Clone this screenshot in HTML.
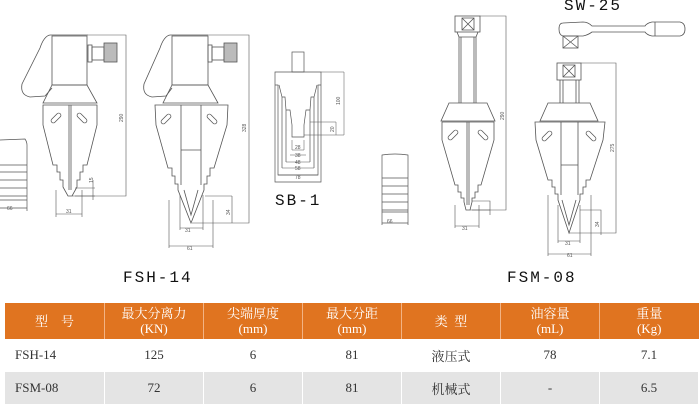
<!DOCTYPE html>
<html><head><meta charset="utf-8"><style>
html,body{margin:0;padding:0;background:#fff;width:700px;height:404px;overflow:hidden}
svg{position:absolute;left:0;top:0}
table{position:absolute;left:5px;top:303px;width:694px;border-collapse:collapse;table-layout:fixed;font-family:"Liberation Serif","Noto Serif CJK SC",serif;font-size:13px;color:#333}
th{background:#e07420;color:#fff;font-weight:normal;height:36px;line-height:15px;border-right:1px solid #f2b384;padding:0}
td{text-align:center;height:32px;padding:0;border-right:1px solid #fff}
tr.g td{background:#e4e4e4;border-top:1px solid #fff}
td:first-child{text-align:left;padding-left:10px}
</style></head><body>
<svg width="700" height="300" viewBox="0 0 700 300" fill="none" stroke="#555" stroke-width="0.8" font-family="Liberation Sans,sans-serif">
<defs>
<g id="slot"><rect x="-6" y="-2.2" width="12" height="4.4" rx="2.2"/></g>
</defs>
<!-- FSH-14 tool 1 -->
<g>
<path d="M52,36 L87,36 L87,85 L52,85 Z"/>
<path d="M50,35 L88,35 M50,35 Q44,36 40,48 L22,84 Q20,95 30,97 L45,96 L52,88"/>
<rect x="88" y="45" width="4" height="17"/><rect x="92" y="47" width="12" height="13"/>
<rect x="104" y="43" width="13" height="19" fill="#bbb"/>
<path d="M52,85 L87,85 L97,103 L43,103 Z"/>
<path d="M43,105 L43,125 L53,165 L57,165 L57,172 L60,172 L60,180 L63,180 L63,187 L68,196 L72,196 L77,187 L77,180 L80,180 L80,172 L83,172 L83,165 L87,165 L97,125 L97,105 Z"/>
<line x1="69" y1="105" x2="69" y2="190"/><line x1="71" y1="105" x2="71" y2="190"/>
<use href="#slot" transform="translate(56,118) rotate(-45)"/><use href="#slot" transform="translate(82,118) rotate(45)"/>
<path d="M88,35 L126,35 L126,196 L72,196" stroke-width="0.6"/>
<path d="M56,190 L56,217 M82,190 L82,217 M56,214 L82,214 M75,188 L95,188 M75,196 L95,196 M93,180 L93,200" stroke-width="0.6"/>
</g>
<!-- left block -->
<path d="M0,140 L25,139 Q27,142 27,145 L27,200 L0,200 M0,165 L27,165 M0,172 L27,172 M0,180 L27,180 M0,188 L27,188 M0,196 L27,196 M27,200 L27,211 M0,208 L27,208" stroke-width="0.7"/>
<!-- FSH-14 tool 2 -->
<g>
<path d="M172,36 L208,36 L208,85 L172,85 Z"/>
<path d="M170,35 L208,35 M170,35 Q164,36 160,48 L144,84 Q142,95 152,97 L166,96 L172,88"/>
<rect x="208" y="45" width="4" height="17"/><rect x="212" y="47" width="12" height="13"/>
<rect x="224" y="43" width="13" height="19" fill="#bbb"/>
<path d="M172,85 L208,85 L218,103 L163,103 Z"/>
<path d="M155,105 L156,125 L168,168 L172,168 L172,176 L175,176 L175,184 L178,184 L178,190 L191,223 L204,190 L204,184 L207,184 L207,176 L210,176 L210,168 L214,168 L227,125 L228,105 Z"/>
<path d="M181,105 L181,185 M201,105 L201,185 M181,150 L201,150 M184,190 L191,215 L198,190"/>
<use href="#slot" transform="translate(166,119) rotate(-45)"/><use href="#slot" transform="translate(212,119) rotate(45)"/>
<path d="M208,35 L249,35 L249,223 L192,223" stroke-width="0.6"/>
<path d="M180,195 L180,230 M203,195 L203,230 M180,228 L203,228 M169,200 L169,248 M213,200 L213,248 M169,246 L213,246 M205,196 L232,196 M232,196 L232,223" stroke-width="0.6"/>
</g>
<!-- SB-1 -->
<g stroke-width="0.7">
<rect x="292" y="52" width="12" height="20"/>
<path d="M275,72 L321,72 L321,182 L275,182 Z"/>
<path d="M275,85 L278,85 L278,175 L318,175 L318,85 L321,85"/>
<path d="M279,85 L282,97 L282,168 M317,85 L314,97 L314,168 M282,97 L285,97 L286,110 L286,162 M314,97 L311,97 L310,110 L310,162 M286,110 L290,110 L292,125 L292,137 L304,137 L304,125 L306,110 L310,110"/>
<path d="M321,72 L344,72 L344,135 L304,135 M310,122 L336,122 L336,135 M292,140 L292,150 L304,150 L304,140 M290,155 L306,155 M286,162 L310,162 M282,168 L314,168 M278,175 L318,175" stroke-width="0.5"/>
</g>
<g fill="#555" stroke="none" font-size="5">
<text x="340" y="105" transform="rotate(-90 340 105)">100</text><text x="334" y="132" transform="rotate(-90 334 132)">20</text>
<text x="295" y="149">28</text><text x="295" y="157">38</text><text x="295" y="164">48</text><text x="295" y="170">58</text><text x="295" y="179">78</text>
<text x="123" y="122" transform="rotate(-90 123 122)">290</text><text x="246" y="132" transform="rotate(-90 246 132)">328</text>
<text x="7" y="210">66</text><text x="66" y="213">31</text><text x="185" y="232">31</text><text x="187" y="250">61</text>
<text x="230" y="215" transform="rotate(-90 230 215)">34</text><text x="93" y="183" transform="rotate(-90 93 183)">15</text>
<text x="387" y="223">66</text><text x="462" y="230">31</text><text x="565" y="245">31</text><text x="567" y="257">61</text>
<text x="504" y="120" transform="rotate(-90 504 120)">290</text><text x="614" y="152" transform="rotate(-90 614 152)">275</text>
<text x="599" y="227" transform="rotate(-90 599 227)">34</text>
</g>
<g fill="#111" stroke="none" font-family="Liberation Mono,monospace" font-size="16" letter-spacing="2">
<text x="275" y="205">SB-1</text>
<text x="123" y="282">FSH-14</text>
<text x="507" y="282">FSM-08</text>
<text x="564" y="10">SW-25</text>
</g>
<!-- left block 2 -->
<path d="M382,155 Q395,153 408,155 L408,212 L382,212 Z M382,178 L408,178 M382,186 L408,186 M382,194 L408,194 M382,202 L408,202 M382,210 L408,210 M382,212 L382,225 M408,212 L408,225 M382,223 L408,223" stroke-width="0.7"/>
<!-- FSM-08 tool 1 -->
<g>
<rect x="455" y="16" width="25" height="16"/><path d="M462,18 L474,30 M474,18 L462,30 M462,18 L474,18 L474,30 L462,30 Z"/>
<path d="M457,32 L459,37 L476,37 L478,32 M459,37 L459,103 M476,37 L476,103 M461,37 L461,103 M474,37 L474,103"/>
<path d="M449,103 L487,103 L495,121 L441,121 Z"/>
<path d="M442,122 L442,140 L455,185 L458,185 L458,192 L461,192 L461,198 L464,198 L464,202 L466,210 L470,210 L472,202 L472,198 L475,198 L475,192 L478,192 L478,185 L481,185 L494,140 L494,122 Z"/>
<line x1="467" y1="122" x2="467" y2="205"/><line x1="469" y1="122" x2="469" y2="205"/>
<use href="#slot" transform="translate(453,135) rotate(-45)"/><use href="#slot" transform="translate(483,135) rotate(45)"/>
<path d="M480,16 L506,16 L506,210 L470,210" stroke-width="0.6"/>
<path d="M455,205 L455,228 M479,205 L479,228 M455,226 L479,226 M472,201 L490,201 L490,215 M472,210 L490,210" stroke-width="0.6"/>
</g>
<!-- SW-25 -->
<g>
<path d="M563,23 L583,22 Q588,22 592,26 L645,26 Q647,23 652,22 L680,22 Q685,23 685,29 Q685,35 680,36 L652,36 Q647,35 645,32 L592,32 Q588,35 583,36 L563,36 Q559,35 559,29 Q559,23 563,23 Z M655,22 L655,36"/>
<rect x="563" y="36" width="15" height="12"/><path d="M563,36 L578,48 M578,36 L563,48"/>
</g>
<!-- FSM-08 tool 2 -->
<g>
<rect x="557" y="63" width="24" height="17"/><path d="M563,65 L575,77 M575,65 L563,77 M563,65 L575,65 L575,77 L563,77 Z"/>
<path d="M560,80 L560,103 M579,80 L579,103 M563,80 L563,103 M576,80 L576,103"/>
<path d="M548,103 L590,103 L598,121 L540,121 Z"/>
<path d="M535,122 L536,140 L548,180 L552,180 L552,187 L555,187 L555,194 L558,194 L558,200 L569,233 L580,200 L580,194 L583,194 L583,187 L586,187 L586,180 L590,180 L603,140 L605,122 Z"/>
<path d="M561,122 L561,195 M578,122 L578,195 M561,165 L578,165 M562,200 L569,225 L576,200"/>
<use href="#slot" transform="translate(547,136) rotate(-45)"/><use href="#slot" transform="translate(591,136) rotate(45)"/>
<path d="M581,63 L616,63 L616,233 L569,233" stroke-width="0.6"/>
<path d="M558,205 L558,243 M580,205 L580,243 M558,241 L580,241 M548,195 L548,256 M591,195 L591,256 M548,254 L591,254 M580,210 L601,210 L601,235" stroke-width="0.6"/>
</g>
</svg>
<table>
<tr><th style="width:99px">型&nbsp;&nbsp;&nbsp;&nbsp;号</th><th>最大分离力<br>(KN)</th><th>尖端厚度<br>(mm)</th><th>最大分距<br>(mm)</th><th>类&nbsp;&nbsp;型</th><th>油容量<br>(mL)</th><th style="border-right:none">重量<br>(Kg)</th></tr>
<tr><td>FSH-14</td><td>125</td><td>6</td><td>81</td><td>液压式</td><td>78</td><td>7.1</td></tr>
<tr class="g"><td>FSM-08</td><td>72</td><td>6</td><td>81</td><td>机械式</td><td>-</td><td>6.5</td></tr>
</table>
</body></html>
